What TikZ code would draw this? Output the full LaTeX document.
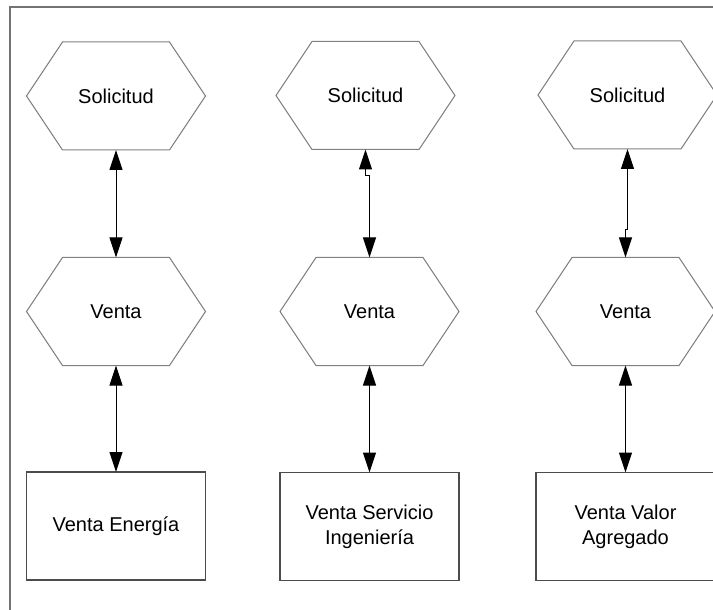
\documentclass[tikz,border=0pt]{standalone}
\usepackage{fontspec}
\setmainfont{Liberation Sans}
\usetikzlibrary{arrows.meta}

\begin{document}
\begin{tikzpicture}[x=0.5pt,y=-0.5pt,
    proc/.style={minimum width=89.5pt,minimum height=54pt,inner sep=0pt,outer sep=0pt,
      font=\fontsize{10}{12.5}\selectfont},
    hexline/.style={draw=black!50,line width=0.5pt},
    caja/.style={proc,draw=black!70,line width=0.6pt,align=center},
    flecha/.style={{Triangle[length=10pt,width=6.5pt]}-{Triangle[length=10pt,width=6.5pt]},line width=0.5pt}]
  \clip (0,0) rectangle (713,610);
  \draw[black!55,line width=0.6pt] (10,7) rectangle (760,660);

  \node[proc] (sol1) at (116,96) {Solicitud};
  \node[proc] (sol2) at (365.5,95.5) {Solicitud};
  \node[proc] (sol3) at (627.5,95) {Solicitud};

  \node[proc] (ven1) at (116,311.5) {Venta};
  \node[proc] (ven2) at (369.5,311.5) {Venta};
  \node[proc] (ven3) at (625.5,311.5) {Venta};

  \foreach \n in {sol1,sol2,sol3,ven1,ven2,ven3}{
    \draw[hexline] ([xshift=18pt]\n.north west) -- ([xshift=-18pt]\n.north east) -- (\n.east)
      -- ([xshift=-18pt]\n.south east) -- ([xshift=18pt]\n.south west) -- (\n.west) -- cycle;
  }

  \node[caja] (ene) at (116,526) {Venta Energía};
  \node[caja] (ing) at (369.5,526.5) {Venta Servicio\\Ingeniería};
  \node[caja] (agr) at (625.5,526.5) {Venta Valor\\Agregado};

  \draw[flecha] (sol1) -- (ven1);
  \draw[flecha] (sol2.south) -- ++(0,26) -| (ven2.north);
  \draw[flecha] (sol3.south) -- ++(0,81) -| (ven3.north);

  \draw[flecha] (ven1) -- (ene);
  \draw[flecha] (ven2) -- (ing);
  \draw[flecha] (ven3) -- (agr);
\end{tikzpicture}
\end{document}
